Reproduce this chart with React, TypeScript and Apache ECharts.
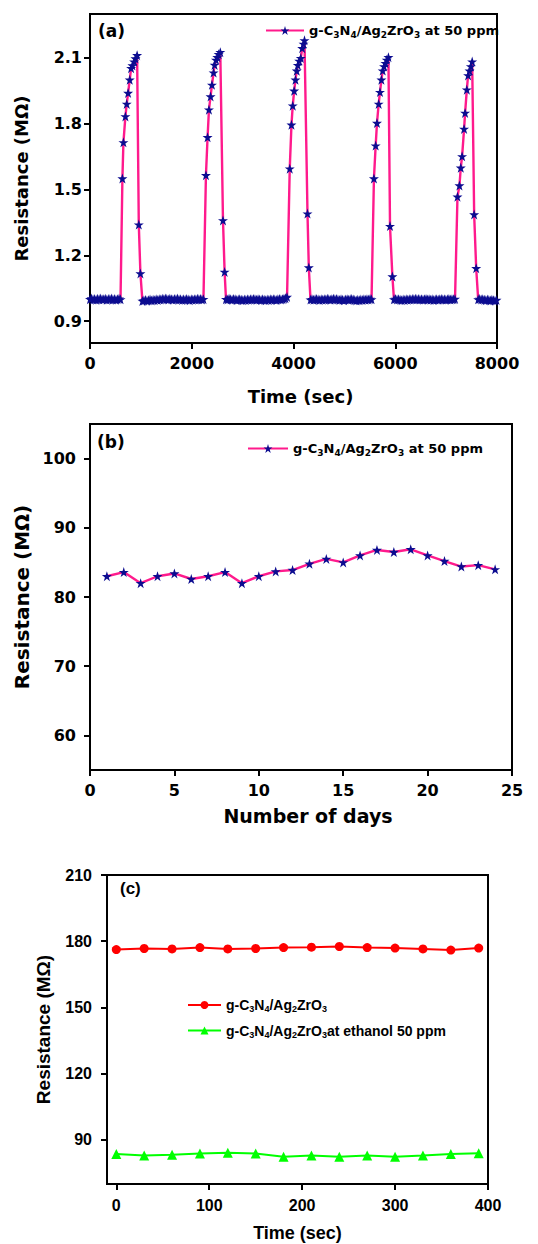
import React, { useEffect, useRef } from "react";
import * as echarts from "echarts";

// ---------- Panel (a): cyclic response at 50 ppm ----------
const SAMPLE_STEP_A = 30; // sec between baseline samples
const baseStartsA = [0, 1030, 2673, 4334, 5975, 7630];
const baseValuesA: number[][] = [
  [1.0, 1.003, 0.998, 1.001, 0.997, 1.002, 0.999, 1.003, 0.998, 1.0, 1.002, 0.997, 1.001, 0.999, 1.003, 0.998, 1.001, 0.997, 1.0, 1.002, 0.999],
  [0.992, 0.994, 0.996, 0.993, 0.995, 0.998, 0.994, 0.997, 0.995, 0.999, 0.996, 1.0, 0.998, 1.002, 0.999, 1.003, 1.001, 0.998, 1.002, 1.0, 0.997, 1.001, 0.999, 1.003, 0.998, 1.0, 0.996, 0.999, 0.997, 1.001, 0.998, 0.995, 0.999, 0.997, 1.0, 0.998, 1.002, 0.999, 1.001, 0.998, 1.0],
  [1.0, 0.998, 1.002, 0.999, 0.997, 1.001, 0.999, 0.996, 0.998, 1.0, 0.997, 0.995, 0.998, 0.996, 0.999, 0.997, 1.0, 0.998, 1.001, 0.999, 0.997, 1.0, 0.998, 0.996, 0.999, 0.997, 0.995, 0.998, 0.996, 0.999, 0.997, 1.0, 0.998, 0.996, 0.999, 1.001, 0.998, 1.0, 1.002, 1.004, 1.01],
  [0.998, 1.0, 0.997, 0.999, 1.001, 0.998, 0.996, 0.999, 0.997, 1.0, 0.998, 1.002, 0.999, 0.997, 1.0, 1.002, 0.999, 1.001, 0.998, 0.996, 0.999, 0.997, 0.995, 0.998, 1.0, 0.997, 0.999, 1.001, 0.998, 0.996, 0.994, 0.997, 0.995, 0.998, 0.996, 0.999, 0.997, 1.0, 0.998, 1.001, 0.999],
  [0.999, 1.001, 0.998, 1.0, 0.997, 0.995, 0.998, 0.996, 0.999, 0.997, 1.0, 0.998, 1.001, 0.999, 1.002, 0.999, 1.001, 0.998, 1.0, 0.997, 0.999, 1.001, 0.998, 1.0, 0.997, 0.999, 0.996, 0.998, 1.0, 0.997, 0.999, 1.001, 0.998, 1.0, 0.997, 0.999, 1.001, 0.998, 1.0, 0.999, 1.001],
  [0.999, 1.001, 0.998, 1.0, 0.997, 0.995, 0.998, 0.996, 0.994, 0.997, 0.995, 0.993, 0.996],
];
const pulseTimesA: number[][] = [
  [637, 657, 696, 722, 749, 781, 808, 834, 867, 893, 926, 959, 991],
  [2279, 2311, 2338, 2370, 2397, 2429, 2449, 2476, 2502, 2528, 2561, 2614, 2646],
  [3926, 3960, 3985, 4013, 4039, 4064, 4084, 4112, 4143, 4171, 4197, 4216, 4275, 4301],
  [5581, 5615, 5641, 5674, 5700, 5728, 5753, 5779, 5807, 5833, 5866, 5897, 5944],
  [7223, 7262, 7288, 7314, 7353, 7373, 7407, 7432, 7460, 7486, 7512, 7551, 7591],
];
const pulseValuesA: number[][] = [
  [1.55, 1.715, 1.833, 1.89, 1.94, 2.0, 2.053, 2.065, 2.083, 2.097, 2.112, 1.34, 1.117],
  [1.565, 1.738, 1.864, 1.924, 1.977, 2.033, 2.068, 2.091, 2.103, 2.117, 2.126, 1.359, 1.124],
  [1.595, 1.795, 1.882, 1.95, 2.0, 2.041, 2.067, 2.086, 2.099, 2.144, 2.164, 2.18, 1.39, 1.144],
  [1.55, 1.7, 1.803, 1.89, 1.944, 2.0, 2.042, 2.061, 2.076, 2.091, 2.103, 1.333, 1.103],
  [1.467, 1.518, 1.599, 1.651, 1.776, 1.849, 1.955, 2.02, 2.041, 2.061, 2.083, 1.386, 1.141],
];
const yTicksA = [0.9, 1.2, 1.5, 1.8, 2.1];

// ---------- Panel (b): stability over days ----------
const daysB = [1, 2, 3, 4, 5, 6, 7, 8, 9, 10, 11, 12, 13, 14, 15, 16, 17, 18, 19, 20, 21, 22, 23, 24];
const resistB = [83.0, 83.6, 82.0, 83.0, 83.4, 82.6, 83.0, 83.6, 82.0, 83.0, 83.7, 83.9, 84.8, 85.5, 85.0, 86.0, 86.8, 86.5, 86.9, 86.0, 85.2, 84.4, 84.6, 84.0];
const yTicksB = [60, 70, 80, 90, 100];

// ---------- Panel (c): air vs ethanol ----------
const timeC = [0, 30, 60, 90, 120, 150, 180, 210, 240, 270, 300, 330, 360, 390];
const resistAirC = [176.2, 176.7, 176.5, 177.1, 176.5, 176.7, 177.1, 177.3, 177.6, 177.1, 176.9, 176.5, 176.0, 176.9];
const resistEthC = [83.6, 82.9, 83.2, 83.8, 84.2, 83.8, 82.4, 82.9, 82.4, 82.9, 82.4, 82.9, 83.6, 83.9];
const yTicksC = [90, 120, 150, 180, 210];
const xTicksC = [0, 100, 200, 300, 400];

const NAME_A = "g-C3N4/Ag2ZrO3 at 50 ppm";
const NAME_C1 = "g-C3N4/Ag2ZrO3";
const NAME_C2 = "g-C3N4/Ag2ZrO3at ethanol 50 ppm";

const STAR = "path://M50,0L61.8,35.5L99,35.5L69,57.5L80.5,93L50,71L19.5,93L31,57.5L1,35.5L38.2,35.5Z";
const PINK = "#ff1a8c";
const NAVY = "#0c0c90";

const DJ = "DejaVu Sans";
const LIB = "Liberation Sans";

function buildSeriesA(): number[][] {
  const out: number[][] = [];
  for (let k = 0; k < baseStartsA.length; k++) {
    baseValuesA[k].forEach((v, i) => out.push([baseStartsA[k] + i * SAMPLE_STEP_A, v]));
    if (k < pulseTimesA.length) {
      pulseTimesA[k].forEach((t, i) => out.push([t, pulseValuesA[k][i]]));
    }
  }
  return out;
}

function richFormula(rest: string) {
  return "{n|g-C}{s|3}{n|N}{s|4}{n|/Ag}{s|2}{n|ZrO}{s|3}" + (rest ? "{n|" + rest + "}" : "");
}
const legendRest: Record<string, string> = {
  [NAME_A]: " at 50 ppm",
  [NAME_C1]: "",
  [NAME_C2]: "at ethanol 50 ppm",
};
function rich(family: string, size: number, sub: number) {
  return {
    n: { fontFamily: family, fontSize: size, fontWeight: "bold", color: "#000", lineHeight: size + 2 },
    s: { fontFamily: family, fontSize: sub, fontWeight: "bold", color: "#000", padding: [Math.round(size * 0.6), 0, 0, 0] },
  };
}

function valAxis(opts: any) {
  const { family, labelSize, labelMargin, customValues, formatter, ...rest } = opts;
  const ax: any = {
    type: "value",
    axisLine: { show: true, onZero: false, lineStyle: { color: "#000", width: 2 } },
    axisTick: { show: true, inside: false, length: 6, lineStyle: { color: "#000", width: 2 } },
    axisLabel: {
      fontFamily: family,
      fontWeight: "bold",
      fontSize: labelSize,
      color: "#000",
      margin: labelMargin,
      showMinLabel: true,
      showMaxLabel: true,
      formatter: formatter || ((v: number) => String(v)),
    },
    splitLine: { show: false },
    nameLocation: "middle",
    ...rest,
  };
  if (customValues) {
    ax.axisLabel.customValues = customValues;
    ax.axisTick.customValues = customValues;
  }
  return ax;
}

export default function App() {
  const ref = useRef<HTMLDivElement>(null);
  useEffect(() => {
    if (!ref.current) return;
    const chart = echarts.init(ref.current, undefined, { renderer: "svg" });
    const gridStyle = { show: true, borderColor: "#000", borderWidth: 2, backgroundColor: "transparent" };
    const option: any = {
      animation: false,
      backgroundColor: "#ffffff",
      grid: [
        { left: 90, top: 14, width: 407, height: 329, ...gridStyle },
        { left: 90, top: 424, width: 422, height: 346, ...gridStyle },
        { left: 107, top: 875, width: 381, height: 309, ...gridStyle },
      ],
      xAxis: [
        valAxis({
          gridIndex: 0, family: DJ, labelSize: 16, labelMargin: 12, min: 0, max: 8000, interval: 2000,
          name: "Time (sec)", nameGap: 44,
          nameTextStyle: { fontFamily: DJ, fontWeight: "bold", fontSize: 18, color: "#000", padding: [0, 0, 0, 14] },
        }),
        valAxis({
          gridIndex: 1, family: DJ, labelSize: 16, labelMargin: 12, min: 0, max: 25, interval: 5,
          name: "Number of days", nameGap: 36,
          nameTextStyle: { fontFamily: DJ, fontWeight: "bold", fontSize: 19, color: "#000", padding: [0, 0, 0, 14] },
        }),
        valAxis({
          gridIndex: 2, family: LIB, labelSize: 16, labelMargin: 13, min: -10, max: 400,
          customValues: xTicksC,
          name: "Time (sec)", nameGap: 40,
          nameTextStyle: { fontFamily: LIB, fontWeight: "bold", fontSize: 18, color: "#000" },
        }),
      ],
      yAxis: [
        valAxis({
          gridIndex: 0, family: DJ, labelSize: 16, labelMargin: 8, min: 0.8, max: 2.3,
          customValues: yTicksA, formatter: (v: number) => v.toFixed(1),
          name: "Resistance (M\u03A9)", nameGap: 60,
          nameTextStyle: { fontFamily: DJ, fontWeight: "bold", fontSize: 18, color: "#000" },
        }),
        valAxis({
          gridIndex: 1, family: DJ, labelSize: 16, labelMargin: 14, min: 55, max: 105,
          customValues: yTicksB,
          name: "Resistance (M\u03A9)", nameGap: 44,
          nameTextStyle: { fontFamily: DJ, fontWeight: "bold", fontSize: 20, color: "#000" },
        }),
        valAxis({
          gridIndex: 2, family: LIB, labelSize: 16, labelMargin: 15, min: 70, max: 210,
          customValues: yTicksC,
          name: "Resistance (M\u03A9)", nameGap: 54,
          nameTextStyle: { fontFamily: LIB, fontWeight: "bold", fontSize: 19, color: "#000" },
        }),
      ],
      legend: [
        {
          left: 265, top: 24, padding: 0, itemWidth: 38, itemHeight: 11, itemGap: 0,
          data: [NAME_A],
          formatter: (n: string) => richFormula(legendRest[n]),
          textStyle: { rich: rich(DJ, 13, 9) },
          selectedMode: false,
        },
        {
          left: 247, top: 442, padding: 0, itemWidth: 40, itemHeight: 11, itemGap: 0,
          data: [NAME_A],
          formatter: (n: string) => richFormula(legendRest[n]),
          textStyle: { rich: rich(DJ, 13, 9) },
          selectedMode: false,
        },
        {
          left: 187, top: 998, padding: 0, orient: "vertical", itemWidth: 33, itemHeight: 10, itemGap: 10,
          data: [NAME_C1, NAME_C2],
          formatter: (n: string) => richFormula(legendRest[n]),
          textStyle: { rich: rich(LIB, 14, 9) },
          selectedMode: false,
        },
      ],
      graphic: [
        { type: "text", left: 98, top: 22, style: { text: "(a)", font: `bold 17px "${DJ}"`, fill: "#000" } },
        { type: "text", left: 97, top: 433, style: { text: "(b)", font: `bold 17px "${DJ}"`, fill: "#000" } },
        { type: "text", left: 120, top: 880, style: { text: "(c)", font: `bold 17px "${LIB}"`, fill: "#000" } },
      ],
      series: [
        {
          name: NAME_A, type: "line", xAxisIndex: 0, yAxisIndex: 0,
          data: buildSeriesA(),
          symbol: STAR, symbolSize: 10,
          lineStyle: { color: PINK, width: 2.4 },
          itemStyle: { color: NAVY },
        },
        {
          name: NAME_A, type: "line", xAxisIndex: 1, yAxisIndex: 1,
          data: daysB.map((d, i) => [d, resistB[i]]),
          symbol: STAR, symbolSize: 10,
          lineStyle: { color: PINK, width: 2.4 },
          itemStyle: { color: NAVY },
        },
        {
          name: NAME_C1, type: "line", xAxisIndex: 2, yAxisIndex: 2,
          data: timeC.map((t, i) => [t, resistAirC[i]]),
          symbol: "circle", symbolSize: 9,
          lineStyle: { color: "#ff0000", width: 2 },
          itemStyle: { color: "#ff0000" },
        },
        {
          name: NAME_C2, type: "line", xAxisIndex: 2, yAxisIndex: 2,
          data: timeC.map((t, i) => [t, resistEthC[i]]),
          symbol: "triangle", symbolSize: 10,
          lineStyle: { color: "#00ff00", width: 2 },
          itemStyle: { color: "#00ff00" },
        },
      ],
    };
    chart.setOption(option);
    return () => chart.dispose();
  }, []);
  return (
    <div
      ref={ref}
      style={{ position: "absolute", left: 0, top: 0, width: 538, height: 1244, background: "#fff" }}
    />
  );
}
